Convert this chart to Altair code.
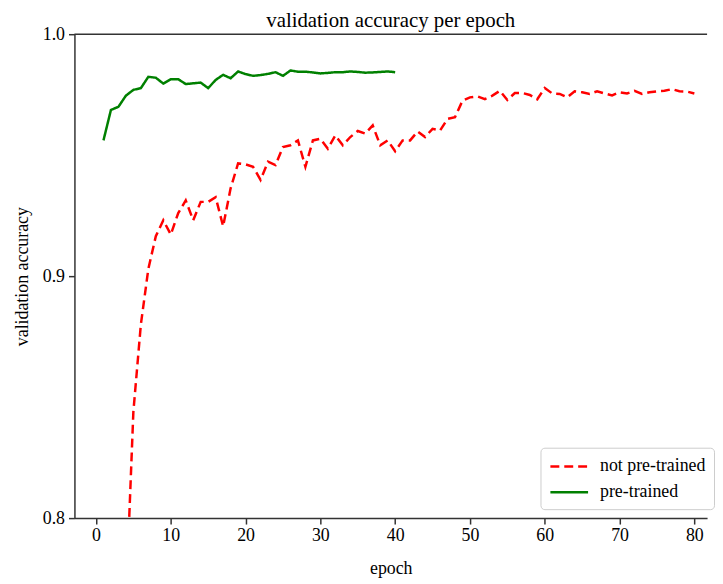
import altair as alt
import pandas as pd

# ---- data ----
epochs_not_pretrained = list(range(1, 81))
acc_not_pretrained = [
    0.600, 0.680, 0.730, 0.765, 0.844, 0.880, 0.903, 0.9165, 0.9231, 0.9172,
    0.9261, 0.9313, 0.9231, 0.9307, 0.9307, 0.9326, 0.9206, 0.9363, 0.9466, 0.9462,
    0.9452, 0.9398, 0.9473, 0.9459, 0.9534, 0.9541, 0.9561, 0.9452, 0.9561, 0.9568,
    0.9527, 0.9582, 0.9541, 0.9575, 0.9600, 0.9589, 0.9623, 0.9541, 0.9561, 0.9516,
    0.9561, 0.9561, 0.9598, 0.9575, 0.9609, 0.9602, 0.9650, 0.9657, 0.9725, 0.9739,
    0.9743, 0.9732, 0.9746, 0.9766, 0.9728, 0.9757, 0.9757, 0.9749, 0.9731, 0.9778,
    0.9755, 0.9753, 0.9739, 0.9764, 0.9760, 0.9753, 0.9764, 0.9755, 0.9747, 0.9760,
    0.9755, 0.9766, 0.9753, 0.9760, 0.9764, 0.9766, 0.9773, 0.9764, 0.9763, 0.9755,
]
epochs_pretrained = list(range(1, 41))
acc_pretrained = [
    0.9561, 0.9687, 0.9700, 0.9746, 0.9770, 0.9777, 0.9824, 0.9820, 0.9796, 0.9814,
    0.9814, 0.9794, 0.9797, 0.9800, 0.9777, 0.9811, 0.9832, 0.9818, 0.9846, 0.9835,
    0.9828, 0.9831, 0.9836, 0.9843, 0.9828, 0.9850, 0.9845, 0.9845, 0.9842, 0.9838,
    0.9840, 0.9843, 0.9843, 0.9846, 0.9844, 0.9841, 0.9842, 0.9844, 0.9846, 0.9843,
]
series_names = ["not pre-trained", "pre-trained"]
series_colors = ["#ff0000", "#008000"]
series_dashes = [[9, 5], [1, 0]]
x_ticks = [0, 10, 20, 30, 40, 50, 60, 70, 80]
y_ticks = [0.8, 0.9, 1.0]
frame_top = [1.0]

df = pd.concat([
    pd.DataFrame({"epoch": epochs_not_pretrained, "accuracy": acc_not_pretrained,
                  "series": series_names[0]}),
    pd.DataFrame({"epoch": epochs_pretrained, "accuracy": acc_pretrained,
                  "series": series_names[1]}),
])

FONT = "Liberation Serif"
AXC = "#333333"

xscale = alt.Scale(domain=[-2.88, 81.7], nice=False, zero=False)
yscale = alt.Scale(domain=[0.8, 1.0], nice=False, zero=False)

lines = alt.Chart(df).mark_line(strokeWidth=2.5, clip=True).encode(
    x=alt.X("epoch:Q", scale=xscale,
            axis=alt.Axis(values=x_ticks, title="epoch", labelPadding=3, titlePadding=15)),
    y=alt.Y("accuracy:Q", scale=yscale,
            axis=alt.Axis(values=y_ticks, format=".1f", title="validation accuracy",
                          labelPadding=4, titlePadding=11)),
    color=alt.Color("series:N",
                    scale=alt.Scale(domain=series_names, range=series_colors),
                    legend=alt.Legend(title=None, orient="none", legendX=470, legendY=417,
                                      symbolType="M-2,0H2", symbolSize=361,
                                      symbolStrokeWidth=2.5, symbolOffset=10,
                                      labelFont=FONT,
                                      labelFontSize=18, labelColor="black",
                                      labelOffset=20, rowPadding=6, padding=8,
                                      strokeColor="#cccccc", cornerRadius=4,
                                      fillColor="white", labelLimit=300)),
    strokeDash=alt.StrokeDash("series:N",
                              scale=alt.Scale(domain=series_names, range=series_dashes),
                              legend=None),
)

top_frame = alt.Chart(pd.DataFrame({"y": frame_top})).mark_rule(
    color=AXC, strokeWidth=1.5
).encode(y=alt.Y("y:Q", scale=yscale))

chart = alt.layer(top_frame, lines).properties(
    width=638,
    height=488,
    padding={"left": 5, "top": 0, "right": 0, "bottom": 0},
    title=alt.TitleParams("validation accuracy per epoch", font=FONT, fontSize=21,
                          fontWeight="normal", color="black", offset=-6,
                          anchor="middle"),
).configure_view(stroke=None).configure_axis(
    grid=False, domainColor=AXC, domainWidth=1.5, tickColor=AXC, tickWidth=1.5,
    tickSize=6, labelFont=FONT, labelFontSize=18, labelColor="black",
    titleFont=FONT, titleFontSize=18, titleFontWeight="normal", titleColor="black",
)

chart.save("out.html", embed_options={"renderer": "svg", "actions": False})
